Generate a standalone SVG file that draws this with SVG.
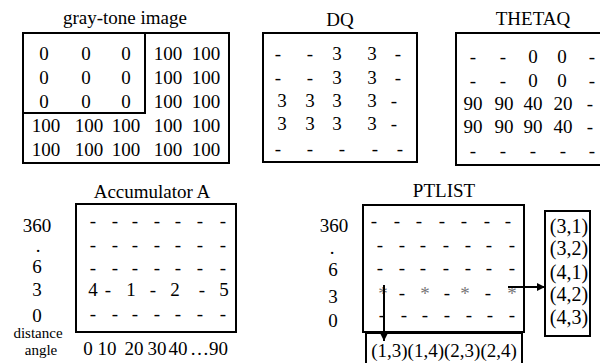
<svg xmlns="http://www.w3.org/2000/svg" width="600" height="363" viewBox="0 0 600 363" font-family="'Liberation Serif', 'DejaVu Serif', serif">
<defs>
<style>
text{font-family:"Liberation Serif","DejaVu Serif",serif;font-size:19px;fill:#000;text-anchor:middle}
.box{fill:none;stroke:#000;stroke-width:2}
.ln{fill:none;stroke:#000;stroke-width:2}
.sm{font-size:15px}
.lst{font-size:20px}
.ast{fill:#777}
</style>
<marker id="ah" viewBox="0 0 10 10" refX="10" refY="5" markerWidth="9" markerHeight="8" markerUnits="userSpaceOnUse" orient="auto">
<path d="M0,0 L10,5 L0,10 z" fill="#000"/>
</marker>
</defs>

<g id="gray-tone-image">
<text x="125" y="24">gray-tone image</text>
<rect class="box" x="23" y="33" width="206" height="130"/>
<path class="ln" d="M145,33 V113 H23"/>
<g>
<text x="44" y="60">0</text><text x="86" y="60">0</text><text x="126" y="60">0</text><text x="168" y="60">100</text><text x="206" y="60">100</text>
<text x="44" y="84">0</text><text x="86" y="84">0</text><text x="126" y="84">0</text><text x="168" y="84">100</text><text x="206" y="84">100</text>
<text x="44" y="108">0</text><text x="86" y="108">0</text><text x="126" y="108">0</text><text x="168" y="108">100</text><text x="206" y="108">100</text>
<text x="46" y="132">100</text><text x="89" y="132">100</text><text x="126" y="132">100</text><text x="168" y="132">100</text><text x="206" y="132">100</text>
<text x="46" y="156">100</text><text x="89" y="156">100</text><text x="126" y="156">100</text><text x="168" y="156">100</text><text x="206" y="156">100</text>
</g>
</g>

<g id="DQ">
<text x="340" y="26">DQ</text>
<rect class="box" x="263" y="33" width="154" height="129"/>
<text x="278" y="60">-</text><text x="310" y="60">-</text><text x="337" y="60">3</text><text x="372" y="60">3</text><text x="398" y="60">-</text>
<text x="278" y="84">-</text><text x="310" y="84">-</text><text x="337" y="84">3</text><text x="372" y="84">3</text><text x="398" y="84">-</text>
<text x="282" y="107">3</text><text x="310" y="107">3</text><text x="337" y="107">3</text><text x="372" y="107">3</text><text x="394" y="107">-</text>
<text x="282" y="130">3</text><text x="310" y="130">3</text><text x="337" y="130">3</text><text x="372" y="130">3</text><text x="394" y="130">-</text>
<text x="278" y="155">-</text><text x="310" y="155">-</text><text x="342" y="155">-</text><text x="375" y="155">-</text><text x="400" y="155">-</text>
</g>

<g id="THETAQ">
<text x="533" y="25">THETAQ</text>
<rect class="box" x="456" y="33" width="150" height="132"/>
<text x="473" y="63">-</text><text x="503" y="63">-</text><text x="533" y="63">0</text><text x="562" y="63">0</text><text x="592" y="63">-</text>
<text x="473" y="87">-</text><text x="503" y="87">-</text><text x="533" y="87">0</text><text x="562" y="87">0</text><text x="592" y="87">-</text>
<text x="473" y="110">90</text><text x="504" y="110">90</text><text x="533" y="110">40</text><text x="563" y="110">20</text><text x="590" y="110">-</text>
<text x="473" y="133">90</text><text x="504" y="133">90</text><text x="533" y="133">90</text><text x="563" y="133">40</text><text x="590" y="133">-</text>
<text x="473" y="157">-</text><text x="503" y="157">-</text><text x="533" y="157">-</text><text x="563" y="157">-</text><text x="592" y="157">-</text>
</g>

<g id="accumulator-A">
<text x="152" y="198">Accumulator A</text>
<rect class="box" x="76" y="204" width="160" height="128"/>
<text x="37" y="232">360</text>
<text x="38" y="252">.</text>
<text x="37" y="273">6</text>
<text x="37" y="296">3</text>
<text x="37" y="322">0</text>
<text class="sm" x="38" y="338">distance</text>
<text class="sm" x="41" y="355">angle</text>
<g>
<text x="93" y="227">-</text><text x="115" y="227">-</text><text x="135" y="227">-</text><text x="157" y="227">-</text><text x="178" y="227">-</text><text x="200" y="227">-</text><text x="223" y="227">-</text>
<text x="93" y="251">-</text><text x="115" y="251">-</text><text x="135" y="251">-</text><text x="157" y="251">-</text><text x="178" y="251">-</text><text x="200" y="251">-</text><text x="223" y="251">-</text>
<text x="93" y="274">-</text><text x="115" y="274">-</text><text x="135" y="274">-</text><text x="157" y="274">-</text><text x="178" y="274">-</text><text x="200" y="274">-</text><text x="223" y="274">-</text>
<text x="93" y="296">4</text><text x="108" y="296">-</text><text x="131" y="296">1</text><text x="153" y="296">-</text><text x="175" y="296">2</text><text x="202" y="296">-</text><text x="224" y="296">5</text>
<text x="93" y="320">-</text><text x="115" y="320">-</text><text x="135" y="320">-</text><text x="157" y="320">-</text><text x="178" y="320">-</text><text x="200" y="320">-</text><text x="223" y="320">-</text>
</g>
<text x="88" y="355">0</text><text x="107" y="355">10</text><text x="134" y="355">20</text><text x="157" y="355">30</text><text x="178" y="355">40</text><text x="209" y="355">…90</text>
</g>

<g id="PTLIST">
<text x="444" y="197">PTLIST</text>
<rect class="box" x="363" y="205" width="161" height="127"/>
<text x="334" y="232">360</text>
<text x="332" y="254">.</text>
<text x="333" y="276">6</text>
<text x="333" y="303">3</text>
<text x="333" y="327">0</text>
<g>
<text x="374" y="227">-</text><text x="397" y="227">-</text><text x="419" y="227">-</text><text x="442" y="227">-</text><text x="464" y="227">-</text><text x="487" y="227">-</text><text x="508" y="227">-</text>
<text x="380" y="251">-</text><text x="402" y="251">-</text><text x="423" y="251">-</text><text x="446" y="251">-</text><text x="468" y="251">-</text><text x="489" y="251">-</text><text x="512" y="251">-</text>
<text x="380" y="274">-</text><text x="402" y="274">-</text><text x="423" y="274">-</text><text x="446" y="274">-</text><text x="468" y="274">-</text><text x="489" y="274">-</text><text x="512" y="274">-</text>
<text class="ast" x="383" y="300">*</text><text x="402" y="299">-</text><text class="ast" x="425" y="300">*</text><text x="447" y="299">-</text><text class="ast" x="465" y="300">*</text><text x="488" y="299">-</text><text class="ast" x="512" y="300">*</text>
<text x="382" y="321">-</text><text x="404" y="321">-</text><text x="425" y="321">-</text><text x="447" y="321">-</text><text x="469" y="321">-</text><text x="490" y="321">-</text><text x="512" y="321">-</text>
</g>
</g>

<g id="point-list-right">
<rect class="box" x="545" y="211" width="45" height="125"/>
<text class="lst" x="569" y="233">(3,1)</text>
<text class="lst" x="569" y="255">(3,2)</text>
<text class="lst" x="569" y="279">(4,1)</text>
<text class="lst" x="569" y="301">(4,2)</text>
<text class="lst" x="569" y="324">(4,3)</text>
</g>

<g id="point-list-bottom">
<rect class="box" x="366" y="333" width="156" height="40"/>
<text x="444" y="357">(1,3)(1,4)(2,3)(2,4)</text>
</g>

<g id="connectors">
<line class="ln" x1="384" y1="285" x2="384" y2="341" marker-end="url(#ah)"/>
<line class="ln" x1="508" y1="287" x2="545" y2="287" marker-end="url(#ah)"/>
</g>
</svg>
